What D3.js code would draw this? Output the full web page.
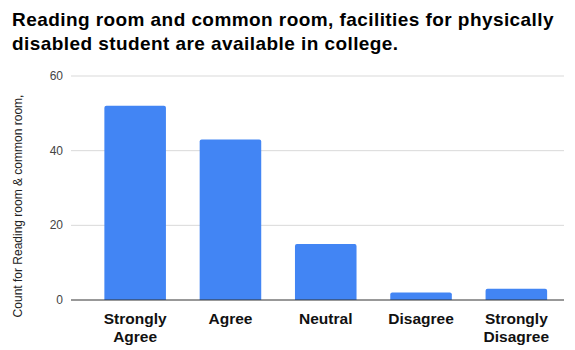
<!DOCTYPE html>
<html><head><meta charset="utf-8">
<script src="https://cdn.jsdelivr.net/npm/d3@7"></script>
<style>body{margin:0;background:#fff}svg{display:block}</style>
</head><body>
<svg id="c" width="575" height="350"></svg>
<script>
const titleLines = ["Reading room and common room, facilities for physically", "disabled student are available in college."];
const categories = ["Strongly Agree", "Agree", "Neutral", "Disagree", "Strongly Disagree"];
const values = [52, 43, 15, 2, 3];
const yTicks = [0, 20, 40, 60];
const yTitle = "Count for Reading room & common room,";

const svg = d3.select("#c");
const font = "'Liberation Sans', Arial, sans-serif";
const x = d3.scaleBand().domain(categories).range([87.5, 564]).paddingInner(0.354).paddingOuter(0.177);
const y = d3.scaleLinear().domain([0, 60]).range([300, 76]);
const gridL = 71, gridR = 564;

svg.append("g").selectAll("text").data(titleLines).join("text")
  .attr("x", 12).attr("y", (d,i)=>25.5 + i*24)
  .attr("font-family", font).attr("font-weight", "bold").attr("font-size", 19)
  .attr("letter-spacing", 0.43)
  .attr("fill", "#000").text(d=>d);

svg.append("g").selectAll("line").data(yTicks.filter(t=>t>0)).join("line")
  .attr("x1", gridL).attr("x2", gridR).attr("y1", d=>y(d)).attr("y2", d=>y(d))
  .attr("stroke", "#d9d9d9").attr("stroke-width", 1);

svg.append("g").selectAll("text").data(yTicks).join("text")
  .attr("x", 63).attr("y", d=>y(d)+4).attr("text-anchor", "end")
  .attr("font-family", font).attr("font-size", 12).attr("fill", "#444").text(d=>d);

svg.append("g").selectAll("path").data(categories).join("path")
  .attr("fill", "#4285f4")
  .attr("d", (d,i)=>{
    const x0 = x(d), w = x.bandwidth(), yt = y(values[i]), yb = y(0), r = 2;
    return `M${x0},${yb}V${yt+r}Q${x0},${yt} ${x0+r},${yt}H${x0+w-r}Q${x0+w},${yt} ${x0+w},${yt+r}V${yb}Z`;
  });

svg.append("line").attr("x1", gridL).attr("x2", gridR).attr("y1", y(0)).attr("y2", y(0))
  .attr("stroke", "#333").attr("stroke-width", 1);

const xl = svg.append("g").selectAll("text").data(categories).join("text")
  .attr("x", d=>x(d)+x.bandwidth()/2).attr("y", 323.5).attr("text-anchor", "middle")
  .attr("font-family", font).attr("font-weight", "bold").attr("font-size", 15.5).attr("fill", "#111");
xl.each(function(d){
  const words = d.split(" ");
  const t = d3.select(this);
  if (words.length > 1) {
    t.append("tspan").attr("x", x(d)+x.bandwidth()/2).attr("dy", 0).text(words[0]);
    t.append("tspan").attr("x", x(d)+x.bandwidth()/2).attr("dy", 18.5).text(words.slice(1).join(" "));
  } else t.text(d);
});

svg.append("text").attr("transform", "translate(22,206) rotate(-90)")
  .attr("text-anchor", "middle").attr("font-family", font).attr("font-size", 12)
  .attr("fill", "#222").text(yTitle);
</script>
</body></html>
